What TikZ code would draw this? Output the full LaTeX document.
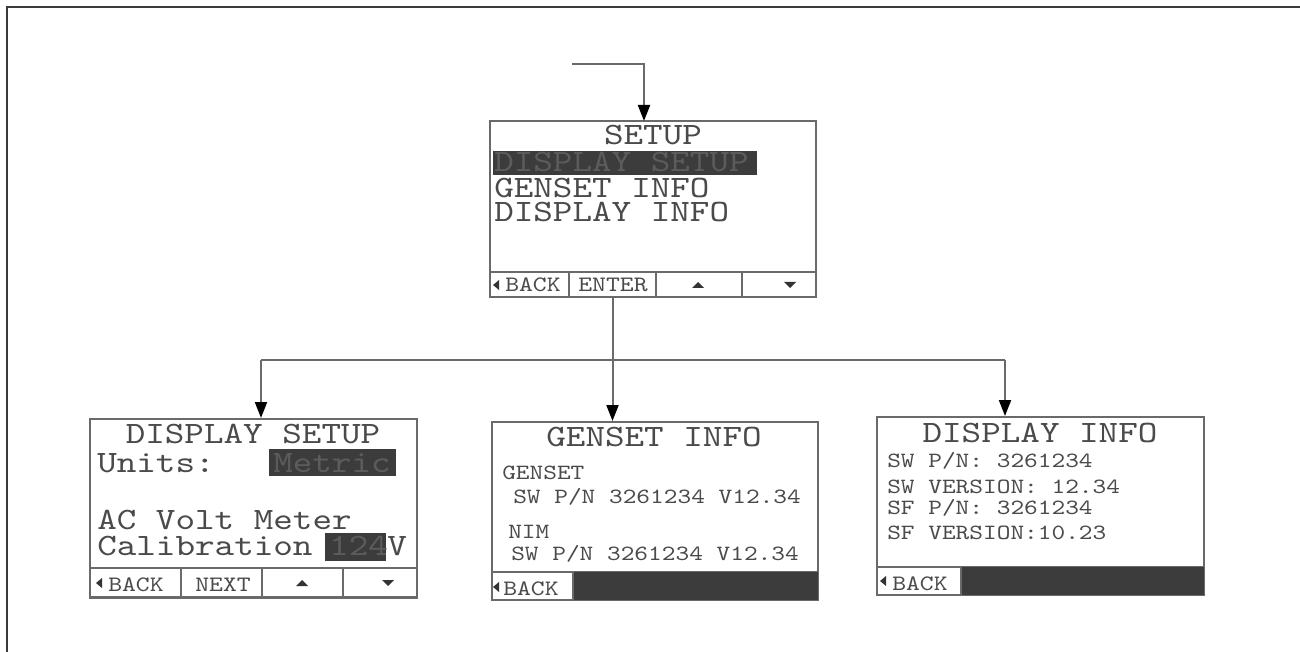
\documentclass[tikz,border=0pt]{standalone}
\usepackage{fontspec}
\setmonofont{lmmono10-regular}[Extension=.otf, FakeStretch=1.2]
\usetikzlibrary{arrows.meta}
\definecolor{txt}{HTML}{4A4A4A}
\definecolor{edge}{HTML}{6A6A6A}
\definecolor{hl}{HTML}{3C3C3C}
\definecolor{hltxt}{HTML}{5C5C5C}
\definecolor{framec}{HTML}{3A3A3A}
\begin{document}
\begin{tikzpicture}[x=0.75pt,y=-0.75pt,
  scr/.style={draw=edge, line width=1.5pt, inner sep=0pt, rectangle},
  cell/.style={draw=edge, line width=1.2pt, inner sep=0pt, rectangle, minimum height=18.75pt},
  big/.style={font=\ttfamily\fontsize{23.3}{23.3}\selectfont, text=txt, inner sep=0pt, text height=14.5pt, text depth=1pt},
  mid/.style={font=\ttfamily\fontsize{16.3}{16.3}\selectfont, text=txt, inner sep=0pt, text height=10.2pt, text depth=1pt},
  btn/.style={font=\ttfamily\fontsize{16.5}{16.5}\selectfont, text=txt, inner sep=0pt, text height=10.3pt, text depth=0.5pt},
  sep/.style={draw=edge, line width=1.2pt},
  link/.style={draw=edge, line width=1.5pt},
  conn/.style={draw=edge, line width=1.5pt, -{Triangle[width=9pt,length=12pt,color=black]}},
  uptri/.pic={\fill[black!80] (-6,3) -- (6,3) -- (0,-3) -- cycle;},
  dntri/.pic={\fill[black!80] (-6,-3) -- (6,-3) -- (0,3) -- cycle;},
  lftri/.pic={\fill[black!80] (-3,0) -- (3,-5) -- (3,5) -- cycle;}
]
\useasboundingbox (0,0) rectangle (1300,652);
% outer frame
\draw[framec, line width=1.6pt] (7,652) -- (7,7) -- (1300,7);

% ---------- SETUP screen ----------
\node[scr, minimum width=244.5pt, minimum height=132pt] (setup) at (653,209) {};
\node[big, anchor=base] (setupT) at (653,145) {SETUP};
\fill[hl] (493,151) rectangle (757,175);
\node[big, text=hltxt, anchor=base west] (setupA) at (494,172) {DISPLAY SETUP};
\node[big, anchor=base west] (setupB) at (494,198) {GENSET INFO};
\node[big, anchor=base west] (setupC) at (494,222) {DISPLAY INFO};
\node[cell, minimum width=59.25pt] (sBack) at (529.5,284.5) {};
\node[cell, minimum width=65.25pt] (enter) at (612.5,284.5) {};
\node[cell, minimum width=64.5pt] (sUp) at (699,284.5) {};
\node[cell, minimum width=55.5pt] (sDn) at (779,284.5) {};
\pic at (496,285) {lftri};
\node[btn, anchor=base west] (sBackT) at (505,292) {BACK};
\node[btn, anchor=base] (enterT) at (613,292) {ENTER};
\pic at (698,285) {uptri};
\pic at (790,285) {dntri};

% ---------- DISPLAY SETUP screen ----------
\node[scr, minimum width=245.25pt, minimum height=133.5pt] (dsetup) at (253.5,508) {};
\node[big, anchor=base] (dsT) at (253,443) {DISPLAY SETUP};
\fill[hl] (269,449) rectangle (396,476);
\node[big, anchor=base west] (dsU) at (97,472) {Units:};
\node[big, text=hltxt, anchor=base west] (dsM) at (273,472) {Metric};
\node[big, anchor=base west] (dsAC) at (97,529) {AC Volt Meter};
\fill[hl] (325,533) rectangle (386,561);
\node[big, anchor=base west] (dsCal) at (97,555) {Calibration};
\node[big, text=hltxt, anchor=base west] (dsNum) at (329,555) {124};
\node[big, anchor=base west] (dsV) at (387,555) {V};
\node[cell, minimum width=68.25pt, minimum height=22.5pt] (dBack) at (135.5,583) {};
\node[cell, minimum width=60.75pt, minimum height=22.5pt] (dNext) at (221.5,583) {};
\node[cell, minimum width=60.75pt, minimum height=22.5pt] (dUp) at (302.5,583) {};
\node[cell, minimum width=55.5pt, minimum height=22.5pt] (dDn) at (380,583) {};
\pic at (99,583) {lftri};
\node[btn, anchor=base west] (dBackT) at (108,591) {BACK};
\node[btn, anchor=base] (dNextT) at (223,591) {NEXT};
\pic at (302,583) {uptri};
\pic at (388,583) {dntri};

% ---------- GENSET INFO screen ----------
\node[scr, minimum width=244.5pt, minimum height=133.5pt] (ginfo) at (655,511) {};
\node[big, anchor=base] (giT) at (654,446) {GENSET INFO};
\node[mid, anchor=base west] (gi1) at (502,479) {GENSET};
\node[mid, anchor=base west] (gi2) at (513,503) {SW P/N 3261234 V12.34};
\node[mid, anchor=base west] (gi3) at (508,538) {NIM};
\node[mid, anchor=base west] (gi4) at (511,560) {SW P/N 3261234 V12.34};
\draw[sep] (492,572) -- (818,572);
\fill[hl] (573,572) rectangle (818,600);
\draw[sep] (573,572) -- (573,600);
\pic at (496,587) {lftri};
\node[btn, anchor=base west] (giBack) at (503,595) {BACK};

% ---------- DISPLAY INFO screen ----------
\node[scr, minimum width=245.25pt, minimum height=133.5pt] (dinfo) at (1040.5,506) {};
\node[big, anchor=base] (diT) at (1040,442) {DISPLAY INFO};
\node[mid, anchor=base west] (di1) at (887,467) {SW P/N: 3261234};
\node[mid, anchor=base west] (di2) at (887,493) {SW VERSION: 12.34};
\node[mid, anchor=base west] (di3) at (887,514) {SF P/N: 3261234};
\node[mid, anchor=base west] (di4) at (887,539) {SF VERSION:10.23};
\draw[sep] (877,567) -- (1204,567);
\fill[hl] (961,567) rectangle (1204,595);
\draw[sep] (961,567) -- (961,595);
\pic at (883,581) {lftri};
\node[btn, anchor=base west] (diBack) at (892,590) {BACK};

% ---------- connectors ----------
\coordinate (entry) at (572,64);
\coordinate (setupIn) at (644,121);
\draw[conn] (entry) -| (setupIn);
\coordinate (lft) at (261,360);
\coordinate (rgt) at (1005,360);
\draw[link] (lft) -- (rgt);
\draw[conn] (enter.south) -- (enter.south |- ginfo.north);
\draw[conn] (lft) -- (lft |- dsetup.north);
\draw[conn] (rgt) -- (rgt |- dinfo.north);
\end{tikzpicture}
\end{document}
